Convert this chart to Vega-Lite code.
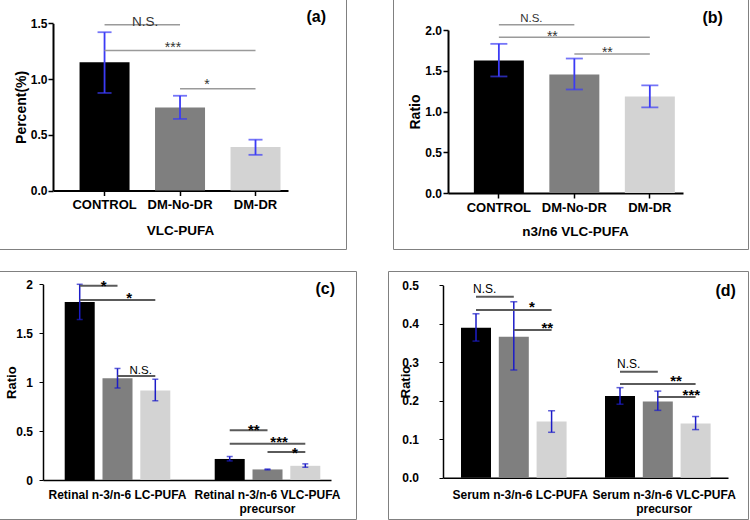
{
  "$schema": "https://vega.github.io/schema/vega-lite/v6.json",
  "padding": {"left": -3, "top": -2, "right": 0, "bottom": 0},
  "config": {
    "font": "Liberation Sans",
    "view": {"stroke": "#808080", "strokeWidth": 1},
    "axis": {"labelColor": "#000", "titleColor": "#000", "grid": false}
  },
  "datasets": {
    "a_bars": [
      {"series": "CONTROL", "value": 1.15, "lo": 0.875, "hi": 1.42},
      {"series": "DM-No-DR", "value": 0.745, "lo": 0.642, "hi": 0.85},
      {"series": "DM-DR", "value": 0.39, "lo": 0.32, "hi": 0.456}
    ],
    "a_sig": [
      {"from": "CONTROL", "to": "DM-No-DR", "y": 1.487, "label": "N.S."},
      {"from": "CONTROL", "to": "DM-DR", "y": 1.256, "label": "***"},
      {"from": "DM-No-DR", "to": "DM-DR", "y": 0.912, "label": "*"}
    ],
    "b_bars": [
      {"series": "CONTROL", "value": 1.625, "lo": 1.43, "hi": 1.83},
      {"series": "DM-No-DR", "value": 1.455, "lo": 1.27, "hi": 1.65},
      {"series": "DM-DR", "value": 1.185, "lo": 1.05, "hi": 1.32}
    ],
    "b_sig": [
      {"from": "CONTROL", "to": "DM-No-DR", "y": 2.065, "label": "N.S."},
      {"from": "CONTROL", "to": "DM-DR", "y": 1.91, "label": "**"},
      {"from": "DM-No-DR", "to": "DM-DR", "y": 1.706, "label": "**"}
    ],
    "c_bars": [
      {"group": "Retinal n-3/n-6 LC-PUFA", "series": "CONTROL", "value": 1.82, "lo": 1.64, "hi": 2.0},
      {"group": "Retinal n-3/n-6 LC-PUFA", "series": "DM-No-DR", "value": 1.04, "lo": 0.94, "hi": 1.14},
      {"group": "Retinal n-3/n-6 LC-PUFA", "series": "DM-DR", "value": 0.915, "lo": 0.81, "hi": 1.03},
      {"group": "Retinal n-3/n-6 VLC-PUFA precursor", "series": "CONTROL", "value": 0.215, "lo": 0.195, "hi": 0.24},
      {"group": "Retinal n-3/n-6 VLC-PUFA precursor", "series": "DM-No-DR", "value": 0.108, "lo": 0.104, "hi": 0.112},
      {"group": "Retinal n-3/n-6 VLC-PUFA precursor", "series": "DM-DR", "value": 0.145, "lo": 0.13, "hi": 0.165}
    ],
    "c_sig": [
      {"group": "Retinal n-3/n-6 LC-PUFA", "from": "CONTROL", "to": "DM-No-DR", "y": 1.984, "label": "*"},
      {"group": "Retinal n-3/n-6 LC-PUFA", "from": "CONTROL", "to": "DM-DR", "y": 1.84, "label": "*"},
      {"group": "Retinal n-3/n-6 LC-PUFA", "from": "DM-No-DR", "to": "DM-DR", "y": 1.063, "label": "N.S."},
      {"group": "Retinal n-3/n-6 VLC-PUFA precursor", "from": "CONTROL", "to": "DM-No-DR", "y": 0.508, "label": "**"},
      {"group": "Retinal n-3/n-6 VLC-PUFA precursor", "from": "CONTROL", "to": "DM-DR", "y": 0.371, "label": "***"},
      {"group": "Retinal n-3/n-6 VLC-PUFA precursor", "from": "DM-No-DR", "to": "DM-DR", "y": 0.286, "label": "*"}
    ],
    "d_bars": [
      {"group": "Serum n-3/n-6 LC-PUFA", "series": "CONTROL", "value": 0.39, "lo": 0.355, "hi": 0.426},
      {"group": "Serum n-3/n-6 LC-PUFA", "series": "DM-No-DR", "value": 0.366, "lo": 0.28, "hi": 0.457},
      {"group": "Serum n-3/n-6 LC-PUFA", "series": "DM-DR", "value": 0.146, "lo": 0.118, "hi": 0.174},
      {"group": "Serum n-3/n-6 VLC-PUFA precursor", "series": "CONTROL", "value": 0.212, "lo": 0.191, "hi": 0.234},
      {"group": "Serum n-3/n-6 VLC-PUFA precursor", "series": "DM-No-DR", "value": 0.198, "lo": 0.175, "hi": 0.225},
      {"group": "Serum n-3/n-6 VLC-PUFA precursor", "series": "DM-DR", "value": 0.141, "lo": 0.125, "hi": 0.159}
    ],
    "d_sig": [
      {"group": "Serum n-3/n-6 LC-PUFA", "from": "CONTROL", "to": "DM-No-DR", "y": 0.47, "label": "N.S."},
      {"group": "Serum n-3/n-6 LC-PUFA", "from": "CONTROL", "to": "DM-DR", "y": 0.436, "label": "*"},
      {"group": "Serum n-3/n-6 LC-PUFA", "from": "DM-No-DR", "to": "DM-DR", "y": 0.384, "label": "**"},
      {"group": "Serum n-3/n-6 VLC-PUFA precursor", "from": "CONTROL", "to": "DM-No-DR", "y": 0.2755, "label": "N.S."},
      {"group": "Serum n-3/n-6 VLC-PUFA precursor", "from": "CONTROL", "to": "DM-DR", "y": 0.2435, "label": "**"},
      {"group": "Serum n-3/n-6 VLC-PUFA precursor", "from": "DM-No-DR", "to": "DM-DR", "y": 0.2097, "label": "***"}
    ]
  },
  "vconcat": [
    {
      "hconcat": [
        {
          "width": 348, "height": 250,
          "layer": [
            {
              "data": {"name": "a_bars"},
              "mark": {"type": "bar"},
              "encoding": {
                "x": {"field": "series", "type": "nominal", "title": "VLC-PUFA",
                  "scale": {"domain": ["CONTROL", "DM-No-DR", "DM-DR"], "range": [55, 290], "paddingInner": 0.3377, "paddingOuter": 0.2255, "align": 0.78},
                  "axis": {"offset": -58.5, "labelAngle": 0, "labelFontSize": 13, "labelFontWeight": "bold", "labelPadding": 2.5, "tickSize": 5, "tickWidth": 1.5, "tickColor": "#000", "domainColor": "#000", "domainWidth": 2, "titleFontSize": 13.5, "titleFontWeight": "bold", "titlePadding": 12, "titleX": 182}},
                "y": {"field": "value", "type": "quantitative", "title": "Percent(%)",
                  "scale": {"domain": [0, 1.5], "range": [191.5, 24.3], "nice": false, "zero": false},
                  "axis": {"offset": -55, "values": [0, 0.5, 1, 1.5], "format": ".1f", "labelFontSize": 12, "labelFontWeight": "bold", "labelPadding": 1, "tickSize": 5, "tickWidth": 1.5, "tickColor": "#000", "domainColor": "#000", "domainWidth": 2, "titleFontSize": 14, "titleFontWeight": "bold", "titlePadding": 2.3}},
                "color": {"field": "series", "type": "nominal", "scale": {"domain": ["CONTROL", "DM-No-DR", "DM-DR"], "range": ["#000000", "#7f7f7f", "#d3d3d3"]}, "legend": null}
              }
            },
            {
              "data": {"name": "a_bars"},
              "mark": {"type": "rule", "color": "#3b3bf5", "strokeWidth": 1.8},
              "encoding": {
                "x": {"field": "series", "type": "nominal", "title": "VLC-PUFA"},
                "y": {"field": "lo", "type": "quantitative", "title": "Percent(%)"},
                "y2": {"field": "hi"}
              }
            },
            {
              "data": {"name": "a_bars"},
              "mark": {"type": "tick", "color": "#3b3bf5", "size": 14, "thickness": 1.8},
              "encoding": {
                "x": {"field": "series", "type": "nominal", "title": "VLC-PUFA"},
                "y": {"field": "lo", "type": "quantitative", "title": "Percent(%)"}
              }
            },
            {
              "data": {"name": "a_bars"},
              "mark": {"type": "tick", "color": "#3b3bf5", "size": 14, "thickness": 1.8},
              "encoding": {
                "x": {"field": "series", "type": "nominal", "title": "VLC-PUFA"},
                "y": {"field": "hi", "type": "quantitative", "title": "Percent(%)"}
              }
            },
            {
              "data": {"name": "a_sig"},
              "transform": [{"fold": ["from", "to"], "as": ["end", "series"]}],
              "mark": {"type": "line", "color": "#9a9a9a", "strokeWidth": 1.5},
              "encoding": {
                "x": {"field": "series", "type": "nominal", "title": "VLC-PUFA"},
                "y": {"field": "y", "type": "quantitative", "title": "Percent(%)"},
                "detail": {"field": "y", "type": "nominal"}
              }
            },
            {
              "data": {"name": "a_sig"},
              "transform": [{"filter": "datum.from == 'CONTROL' && datum.to == 'DM-No-DR'"}],
              "mark": {"type": "text", "fontSize": 13.5, "color": "#333", "baseline": "alphabetic", "dy": 1},
              "encoding": {
                "x": {"field": "from", "type": "nominal", "bandPosition": 1.31, "title": "VLC-PUFA"},
                "y": {"field": "y", "type": "quantitative", "title": "Percent(%)"},
                "text": {"field": "label"}
              }
            },
            {
              "data": {"name": "a_sig"},
              "transform": [{"filter": "datum.from == 'CONTROL' && datum.to == 'DM-DR'"}],
              "mark": {"type": "text", "fontSize": 14, "color": "#333", "baseline": "alphabetic", "dy": 1.5},
              "encoding": {
                "x": {"field": "from", "type": "nominal", "bandPosition": 1.87, "title": "VLC-PUFA"},
                "y": {"field": "y", "type": "quantitative", "title": "Percent(%)"},
                "text": {"field": "label"}
              }
            },
            {
              "data": {"name": "a_sig"},
              "transform": [{"filter": "datum.from == 'DM-No-DR' && datum.to == 'DM-DR'"}],
              "mark": {"type": "text", "fontSize": 14, "color": "#333", "baseline": "alphabetic", "dy": 0},
              "encoding": {
                "x": {"field": "from", "type": "nominal", "bandPosition": 1.04, "title": "VLC-PUFA"},
                "y": {"field": "y", "type": "quantitative", "title": "Percent(%)"},
                "text": {"field": "label"}
              }
            },
            {
              "data": {"values": [{"panel": "(a)"}]},
              "mark": {"type": "text", "fontSize": 16, "fontWeight": "bold", "color": "#000", "align": "right", "baseline": "alphabetic", "dy": -1},
              "encoding": {
                "x": {"datum": "DM-DR", "type": "nominal", "bandPosition": 1.91, "title": "VLC-PUFA"},
                "y": {"datum": 1.5, "type": "quantitative", "title": "Percent(%)"},
                "text": {"field": "panel"}
              }
            }
          ]
        },
        {
          "width": 355, "height": 250,
          "layer": [
            {
              "data": {"name": "b_bars"},
              "mark": {"type": "bar"},
              "encoding": {
                "x": {"field": "series", "type": "nominal", "title": "n3/n6 VLC-PUFA",
                  "scale": {"domain": ["CONTROL", "DM-No-DR", "DM-DR"], "range": [55, 290], "paddingInner": 0.3377, "paddingOuter": 0.2255, "align": 0.76},
                  "axis": {"offset": -56, "labelAngle": 0, "labelFontSize": 13, "labelFontWeight": "bold", "labelPadding": 3, "tickSize": 5, "tickWidth": 1.5, "tickColor": "#000", "domainColor": "#000", "domainWidth": 2, "titleFontSize": 13.5, "titleFontWeight": "bold", "titlePadding": 10, "titleX": 182}},
                "y": {"field": "value", "type": "quantitative", "title": "Ratio",
                  "scale": {"domain": [0, 2], "range": [194, 31], "nice": false, "zero": false},
                  "axis": {"offset": -55, "values": [0, 0.5, 1, 1.5, 2], "format": ".1f", "labelFontSize": 12, "labelFontWeight": "bold", "labelPadding": 1.5, "tickSize": 5, "tickWidth": 1.5, "tickColor": "#000", "domainColor": "#000", "domainWidth": 2, "titleFontSize": 14, "titleFontWeight": "bold", "titlePadding": 2.3}},
                "color": {"field": "series", "type": "nominal", "scale": {"domain": ["CONTROL", "DM-No-DR", "DM-DR"], "range": ["#000000", "#7f7f7f", "#d3d3d3"]}, "legend": null}
              }
            },
            {
              "data": {"name": "b_bars"},
              "mark": {"type": "rule", "color": "#3b3bf5", "strokeWidth": 1.8},
              "encoding": {
                "x": {"field": "series", "type": "nominal", "title": "n3/n6 VLC-PUFA"},
                "y": {"field": "lo", "type": "quantitative", "title": "Ratio"},
                "y2": {"field": "hi"}
              }
            },
            {
              "data": {"name": "b_bars"},
              "mark": {"type": "tick", "color": "#3b3bf5", "size": 17, "thickness": 1.8},
              "encoding": {
                "x": {"field": "series", "type": "nominal", "title": "n3/n6 VLC-PUFA"},
                "y": {"field": "lo", "type": "quantitative", "title": "Ratio"}
              }
            },
            {
              "data": {"name": "b_bars"},
              "mark": {"type": "tick", "color": "#3b3bf5", "size": 17, "thickness": 1.8},
              "encoding": {
                "x": {"field": "series", "type": "nominal", "title": "n3/n6 VLC-PUFA"},
                "y": {"field": "hi", "type": "quantitative", "title": "Ratio"}
              }
            },
            {
              "data": {"name": "b_sig"},
              "transform": [{"fold": ["from", "to"], "as": ["end", "series"]}],
              "mark": {"type": "line", "color": "#9a9a9a", "strokeWidth": 1.5},
              "encoding": {
                "x": {"field": "series", "type": "nominal", "title": "n3/n6 VLC-PUFA"},
                "y": {"field": "y", "type": "quantitative", "title": "Ratio"},
                "detail": {"field": "y", "type": "nominal"}
              }
            },
            {
              "data": {"name": "b_sig"},
              "transform": [{"filter": "datum.from == 'CONTROL' && datum.to == 'DM-No-DR'"}],
              "mark": {"type": "text", "fontSize": 11.5, "color": "#333", "baseline": "alphabetic", "dy": -2.7},
              "encoding": {
                "x": {"field": "from", "type": "nominal", "bandPosition": 1.15, "title": "n3/n6 VLC-PUFA"},
                "y": {"field": "y", "type": "quantitative", "title": "Ratio"},
                "text": {"field": "label"}
              }
            },
            {
              "data": {"name": "b_sig"},
              "transform": [{"filter": "datum.from == 'CONTROL' && datum.to == 'DM-DR'"}],
              "mark": {"type": "text", "fontSize": 14, "color": "#333", "baseline": "alphabetic", "dy": 4},
              "encoding": {
                "x": {"field": "from", "type": "nominal", "bandPosition": 1.57, "title": "n3/n6 VLC-PUFA"},
                "y": {"field": "y", "type": "quantitative", "title": "Ratio"},
                "text": {"field": "label"}
              }
            },
            {
              "data": {"name": "b_sig"},
              "transform": [{"filter": "datum.from == 'DM-No-DR' && datum.to == 'DM-DR'"}],
              "mark": {"type": "text", "fontSize": 14, "color": "#333", "baseline": "alphabetic", "dy": 3},
              "encoding": {
                "x": {"field": "from", "type": "nominal", "bandPosition": 1.16, "title": "n3/n6 VLC-PUFA"},
                "y": {"field": "y", "type": "quantitative", "title": "Ratio"},
                "text": {"field": "label"}
              }
            },
            {
              "data": {"values": [{"panel": "(b)"}]},
              "mark": {"type": "text", "fontSize": 16, "fontWeight": "bold", "color": "#000", "align": "right", "baseline": "alphabetic", "dy": -7.5},
              "encoding": {
                "x": {"datum": "DM-DR", "type": "nominal", "bandPosition": 1.96, "title": "n3/n6 VLC-PUFA"},
                "y": {"datum": 2, "type": "quantitative", "title": "Ratio"},
                "text": {"field": "panel"}
              }
            }
          ]
        }
      ],
      "spacing": 45
    },
    {
      "hconcat": [
        {
          "width": 358, "height": 248,
          "layer": [
            {
              "data": {"name": "c_bars"},
              "mark": {"type": "bar"},
              "encoding": {
                "x": {"field": "group", "type": "nominal", "title": null,
                  "scale": {"domain": ["Retinal n-3/n-6 LC-PUFA", "Retinal n-3/n-6 VLC-PUFA precursor"], "range": [45, 333], "paddingInner": 0.296, "paddingOuter": 0.108, "align": 0.67},
                  "axis": {"offset": -39, "labelAngle": 0, "ticks": false, "tickSize": 0, "labelPadding": 9, "labelFontSize": 12, "labelFontWeight": "bold", "labelLineHeight": 14, "labelLimit": 300, "labelExpr": "datum.label == 'Retinal n-3/n-6 VLC-PUFA precursor' ? ['Retinal n-3/n-6 VLC-PUFA', 'precursor'] : datum.label", "domainColor": "#000", "domainWidth": 1.5}},
                "xOffset": {"field": "series", "type": "nominal", "scale": {"domain": ["CONTROL", "DM-No-DR", "DM-DR"], "paddingInner": 0.206, "paddingOuter": 0}},
                "y": {"field": "value", "type": "quantitative", "title": "Ratio",
                  "scale": {"domain": [0, 2], "range": [209, 13.3], "nice": false, "zero": false},
                  "axis": {"offset": -45, "values": [0, 0.5, 1, 1.5, 2], "format": "~g", "labelFontSize": 12, "labelFontWeight": "bold", "labelPadding": 6.5, "tickSize": 4, "tickWidth": 1, "tickColor": "#000", "domainColor": "#000", "domainWidth": 1.5, "titleFontSize": 13, "titleFontWeight": "bold", "titlePadding": -3}},
                "color": {"field": "series", "type": "nominal", "scale": {"domain": ["CONTROL", "DM-No-DR", "DM-DR"], "range": ["#000000", "#595959", "#bfbfbf"]}, "legend": null}
              }
            },
            {
              "data": {"name": "c_bars"},
              "mark": {"type": "rule", "color": "#1c1cc8", "strokeWidth": 1.5},
              "encoding": {
                "x": {"field": "group", "type": "nominal", "title": null},
                "xOffset": {"field": "series", "type": "nominal"},
                "y": {"field": "lo", "type": "quantitative", "title": "Ratio"},
                "y2": {"field": "hi"}
              }
            },
            {
              "data": {"name": "c_bars"},
              "mark": {"type": "tick", "color": "#1c1cc8", "size": 6, "thickness": 1.5},
              "encoding": {
                "x": {"field": "group", "type": "nominal", "title": null},
                "xOffset": {"field": "series", "type": "nominal"},
                "y": {"field": "lo", "type": "quantitative", "title": "Ratio"}
              }
            },
            {
              "data": {"name": "c_bars"},
              "mark": {"type": "tick", "color": "#1c1cc8", "size": 6, "thickness": 1.5},
              "encoding": {
                "x": {"field": "group", "type": "nominal", "title": null},
                "xOffset": {"field": "series", "type": "nominal"},
                "y": {"field": "hi", "type": "quantitative", "title": "Ratio"}
              }
            },
            {
              "data": {"name": "c_sig"},
              "transform": [{"fold": ["from", "to"], "as": ["end", "series"]}],
              "mark": {"type": "line", "color": "#5a5a5a", "strokeWidth": 2},
              "encoding": {
                "x": {"field": "group", "type": "nominal", "title": null},
                "xOffset": {"field": "series", "type": "nominal"},
                "y": {"field": "y", "type": "quantitative", "title": "Ratio"},
                "detail": {"field": "y", "type": "nominal"}
              }
            },
            {
              "data": {"name": "c_sig"},
              "transform": [{"filter": "datum.label == 'N.S.'"}],
              "mark": {"type": "text", "fontSize": 11.5, "color": "#000", "baseline": "alphabetic", "dy": -1.5},
              "encoding": {
                "x": {"field": "group", "type": "nominal", "bandPosition": 0.72, "title": null},
                "y": {"field": "y", "type": "quantitative", "title": "Ratio"},
                "text": {"field": "label"}
              }
            },
            {
              "data": {"name": "c_sig"},
              "transform": [{"filter": "datum.label != 'N.S.' && datum.from == 'CONTROL' && datum.to == 'DM-No-DR'"}],
              "mark": {"type": "text", "fontSize": 15, "fontWeight": "bold", "color": "#000", "baseline": "alphabetic", "dy": 5},
              "encoding": {
                "x": {"field": "group", "type": "nominal", "bandPosition": 0.37, "title": null},
                "y": {"field": "y", "type": "quantitative", "title": "Ratio"},
                "text": {"field": "label"}
              }
            },
            {
              "data": {"name": "c_sig"},
              "transform": [{"filter": "datum.label != 'N.S.' && datum.from == 'CONTROL' && datum.to == 'DM-DR'"}],
              "mark": {"type": "text", "fontSize": 15, "fontWeight": "bold", "color": "#000", "baseline": "alphabetic", "dy": 3.5},
              "encoding": {
                "x": {"field": "group", "type": "nominal", "bandPosition": 0.61, "title": null},
                "y": {"field": "y", "type": "quantitative", "title": "Ratio"},
                "text": {"field": "label"}
              }
            },
            {
              "data": {"name": "c_sig"},
              "transform": [{"filter": "datum.label != 'N.S.' && datum.from == 'DM-No-DR' && datum.to == 'DM-DR'"}],
              "mark": {"type": "text", "fontSize": 15, "fontWeight": "bold", "color": "#000", "baseline": "alphabetic", "dy": 6},
              "encoding": {
                "x": {"field": "group", "type": "nominal", "bandPosition": 0.76, "title": null},
                "y": {"field": "y", "type": "quantitative", "title": "Ratio"},
                "text": {"field": "label"}
              }
            },
            {
              "data": {"values": [{"panel": "(c)"}]},
              "mark": {"type": "text", "fontSize": 16, "fontWeight": "bold", "color": "#000", "align": "right", "baseline": "alphabetic"},
              "encoding": {
                "x": {"datum": "Retinal n-3/n-6 VLC-PUFA precursor", "type": "nominal", "bandPosition": 1.139, "title": null},
                "y": {"datum": 1.898, "type": "quantitative", "title": "Ratio"},
                "text": {"field": "panel"}
              }
            }
          ]
        },
        {
          "width": 360, "height": 248,
          "layer": [
            {
              "data": {"name": "d_bars"},
              "mark": {"type": "bar"},
              "encoding": {
                "x": {"field": "group", "type": "nominal", "title": null,
                  "scale": {"domain": ["Serum n-3/n-6 LC-PUFA", "Serum n-3/n-6 VLC-PUFA precursor"], "range": [55, 340], "paddingInner": 0.1785, "paddingOuter": 0.0788, "align": 0.793},
                  "axis": {"offset": -41.3, "labelAngle": 0, "ticks": false, "tickSize": 0, "labelPadding": 11.6, "labelFontSize": 12, "labelFontWeight": "bold", "labelLineHeight": 14, "labelLimit": 300, "labelExpr": "datum.label == 'Serum n-3/n-6 VLC-PUFA precursor' ? ['Serum n-3/n-6 VLC-PUFA', 'precursor'] : datum.label", "domainColor": "#000", "domainWidth": 1.5}},
                "xOffset": {"field": "series", "type": "nominal", "scale": {"domain": ["CONTROL", "DM-No-DR", "DM-DR"], "paddingInner": 0.2165, "paddingOuter": 0}},
                "y": {"field": "value", "type": "quantitative", "title": "Ratio",
                  "scale": {"domain": [0, 0.5], "range": [206.7, 14.3], "nice": false, "zero": false},
                  "axis": {"offset": -55, "values": [0, 0.1, 0.2, 0.3, 0.4, 0.5], "format": ".1f", "labelFontSize": 12, "labelFontWeight": "bold", "labelPadding": 20.5, "tickSize": 4, "tickWidth": 1, "tickColor": "#000", "domainColor": "#000", "domainWidth": 1.5, "titleFontSize": 13, "titleFontWeight": "bold", "titlePadding": -11}},
                "color": {"field": "series", "type": "nominal", "scale": {"domain": ["CONTROL", "DM-No-DR", "DM-DR"], "range": ["#000000", "#595959", "#bfbfbf"]}, "legend": null}
              }
            },
            {
              "data": {"name": "d_bars"},
              "mark": {"type": "rule", "color": "#1c1cc8", "strokeWidth": 1.5},
              "encoding": {
                "x": {"field": "group", "type": "nominal", "title": null},
                "xOffset": {"field": "series", "type": "nominal"},
                "y": {"field": "lo", "type": "quantitative", "title": "Ratio"},
                "y2": {"field": "hi"}
              }
            },
            {
              "data": {"name": "d_bars"},
              "mark": {"type": "tick", "color": "#1c1cc8", "size": 7, "thickness": 1.5},
              "encoding": {
                "x": {"field": "group", "type": "nominal", "title": null},
                "xOffset": {"field": "series", "type": "nominal"},
                "y": {"field": "lo", "type": "quantitative", "title": "Ratio"}
              }
            },
            {
              "data": {"name": "d_bars"},
              "mark": {"type": "tick", "color": "#1c1cc8", "size": 7, "thickness": 1.5},
              "encoding": {
                "x": {"field": "group", "type": "nominal", "title": null},
                "xOffset": {"field": "series", "type": "nominal"},
                "y": {"field": "hi", "type": "quantitative", "title": "Ratio"}
              }
            },
            {
              "data": {"name": "d_sig"},
              "transform": [{"fold": ["from", "to"], "as": ["end", "series"]}],
              "mark": {"type": "line", "color": "#5a5a5a", "strokeWidth": 2},
              "encoding": {
                "x": {"field": "group", "type": "nominal", "title": null},
                "xOffset": {"field": "series", "type": "nominal"},
                "y": {"field": "y", "type": "quantitative", "title": "Ratio"},
                "detail": {"field": "y", "type": "nominal"}
              }
            },
            {
              "data": {"name": "d_sig"},
              "transform": [{"filter": "datum.label == 'N.S.'"}],
              "mark": {"type": "text", "fontSize": 12, "color": "#000", "baseline": "alphabetic", "dy": -3.5},
              "encoding": {
                "x": {"field": "group", "type": "nominal", "bandPosition": 0.2, "title": null},
                "y": {"field": "y", "type": "quantitative", "title": "Ratio"},
                "text": {"field": "label"}
              }
            },
            {
              "data": {"name": "d_sig"},
              "transform": [{"filter": "datum.label != 'N.S.' && datum.from == 'CONTROL' && datum.to == 'DM-DR'"}],
              "mark": {"type": "text", "fontSize": 15, "fontWeight": "bold", "color": "#000", "baseline": "alphabetic", "dy": 2.2},
              "encoding": {
                "x": {"field": "group", "type": "nominal", "bandPosition": 0.6, "title": null},
                "y": {"field": "y", "type": "quantitative", "title": "Ratio"},
                "text": {"field": "label"}
              }
            },
            {
              "data": {"name": "d_sig"},
              "transform": [{"filter": "datum.label != 'N.S.' && datum.from == 'DM-No-DR' && datum.to == 'DM-DR'"}],
              "mark": {"type": "text", "fontSize": 15, "fontWeight": "bold", "color": "#000", "baseline": "alphabetic", "dy": 3.2},
              "encoding": {
                "x": {"field": "group", "type": "nominal", "bandPosition": 0.73, "title": null},
                "y": {"field": "y", "type": "quantitative", "title": "Ratio"},
                "text": {"field": "label"}
              }
            },
            {
              "data": {"values": [{"panel": "(d)"}]},
              "mark": {"type": "text", "fontSize": 16, "fontWeight": "bold", "color": "#000", "align": "right", "baseline": "alphabetic"},
              "encoding": {
                "x": {"datum": "Serum n-3/n-6 VLC-PUFA precursor", "type": "nominal", "bandPosition": 1.107, "title": null},
                "y": {"datum": 0.472, "type": "quantitative", "title": "Ratio"},
                "text": {"field": "panel"}
              }
            }
          ]
        }
      ],
      "spacing": 30
    }
  ],
  "spacing": 20
}
